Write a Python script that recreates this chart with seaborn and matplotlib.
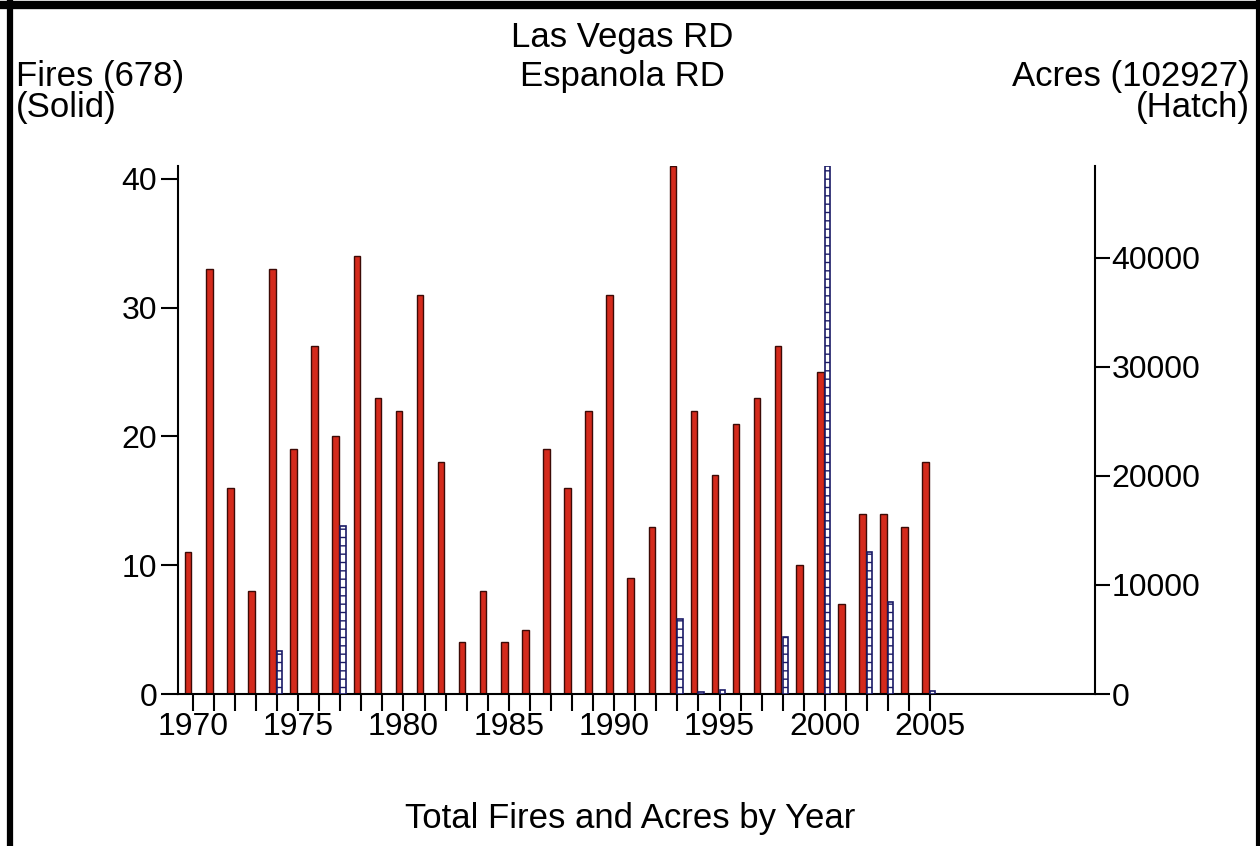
import matplotlib
matplotlib.use("Agg")
import matplotlib.pyplot as plt
import pandas as pd
import seaborn as sns
from matplotlib.lines import Line2D

# Fires per year (solid red) and acres burned (hatched)
years = list(range(1970, 2006))
fires = [11, 33, 16, 8, 33, 19, 27, 20, 34, 23, 22, 31, 18, 4, 8, 4, 5, 19,
         16, 22, 31, 9, 13, 41, 22, 17, 21, 23, 27, 10, 25, 7, 14, 14, 13, 18]
acre_years = [1974, 1977, 1993, 1994, 1995, 1998, 2000, 2002, 2003, 2005]
acres = [3900, 15400, 6900, 200, 400, 5200, 48400, 13000, 8400, 300]

title_lines = ["Las Vegas RD", "Espanola RD"]
left_label = ["Fires (678)", "(Solid)"]
right_label = ["Acres (102927)", "(Hatch)"]
x_title = "Total Fires and Acres by Year"
left_ticks = [0, 10, 20, 30, 40]
right_ticks = [0, 10000, 20000, 30000, 40000]

sns.set_style("white")
plt.rcParams["font.family"] = ["Liberation Sans", "DejaVu Sans"]
plt.rcParams["text.color"] = "black"
plt.rcParams["xtick.color"] = "black"
plt.rcParams["ytick.color"] = "black"
plt.rcParams["hatch.linewidth"] = 1.0
FS = 25
TFS = 23

W, H = 1260, 846
fig = plt.figure(figsize=(W / 100, H / 100), dpi=100)
ax = fig.add_axes([178 / W, 1 - 694 / H, (1095 - 178) / W, (694 - 166) / H])
ax2 = ax.twinx()

fires_df = pd.DataFrame({"year": years, "fires": fires})
fires_df["pos"] = fires_df["year"] - 0.215
acres_df = pd.DataFrame({"year": acre_years, "acres": acres})
acres_df["pos"] = acres_df["year"] + 0.125

sns.barplot(data=fires_df, x="pos", y="fires", native_scale=True, width=0.31,
            color="#d42a1c", saturation=1, edgecolor="#3c0a06", linewidth=1.0,
            errorbar=None, ax=ax)
sns.barplot(data=acres_df, x="pos", y="acres", native_scale=True, width=0.25,
            color="white", saturation=1, edgecolor="#1a1a66", linewidth=1.2,
            hatch="--", errorbar=None, ax=ax2)

ax.set_xlim(1969.30, 2012.82)
ax.set_ylim(0, 41)
ax2.set_ylim(0, 48400)

ax.set_xticks(years)
ax.set_xticklabels([str(y) if y % 5 == 0 else "" for y in years])
ax.set_yticks(left_ticks)
ax2.set_yticks(right_ticks)
ax.set_xlabel("")
ax.set_ylabel("")
ax2.set_ylabel("")

for a in (ax, ax2):
    for s in a.spines.values():
        s.set_visible(False)
    a.grid(False)
    a.patch.set_visible(False)
ax.spines["left"].set_visible(True)
ax.spines["bottom"].set_visible(True)
ax2.spines["right"].set_visible(True)
for s in (ax.spines["left"], ax.spines["bottom"], ax2.spines["right"]):
    s.set_linewidth(1.5)
    s.set_color("black")

ax.tick_params(axis="x", direction="out", length=12, width=1.5, pad=1,
               labelsize=TFS, bottom=True)
ax.tick_params(axis="y", direction="out", length=12, width=1.5, pad=3,
               labelsize=TFS, left=True)
ax2.tick_params(axis="y", direction="out", length=11, width=1.5, pad=1,
                labelsize=TFS, right=True)

# titles and axis captions
fig.text(622 / W, 1 - 57 / H, "\n".join(title_lines), ha="center", va="center",
         fontsize=FS, linespacing=1.25)
fig.text(16 / W, 1 - 92 / H, "\n".join(left_label), ha="left", va="center",
         fontsize=FS, linespacing=0.9)
fig.text(1250 / W, 1 - 92 / H, "\n".join(right_label), ha="right", va="center",
         fontsize=FS, linespacing=0.9, multialignment="right")
fig.text(630 / W, 1 - 818 / H, x_title, ha="center", va="center", fontsize=FS)

# black frame around the picture (no bottom edge)
fig.add_artist(Line2D([10 / W, 10 / W], [0, 1], transform=fig.transFigure, color="black", lw=4.5))
fig.add_artist(Line2D([1258 / W, 1258 / W], [0, 1], transform=fig.transFigure, color="black", lw=3))
fig.add_artist(Line2D([0, 1], [1 - 5 / H, 1 - 5 / H], transform=fig.transFigure, color="black", lw=6))

fig.savefig("out.png", dpi=100)
